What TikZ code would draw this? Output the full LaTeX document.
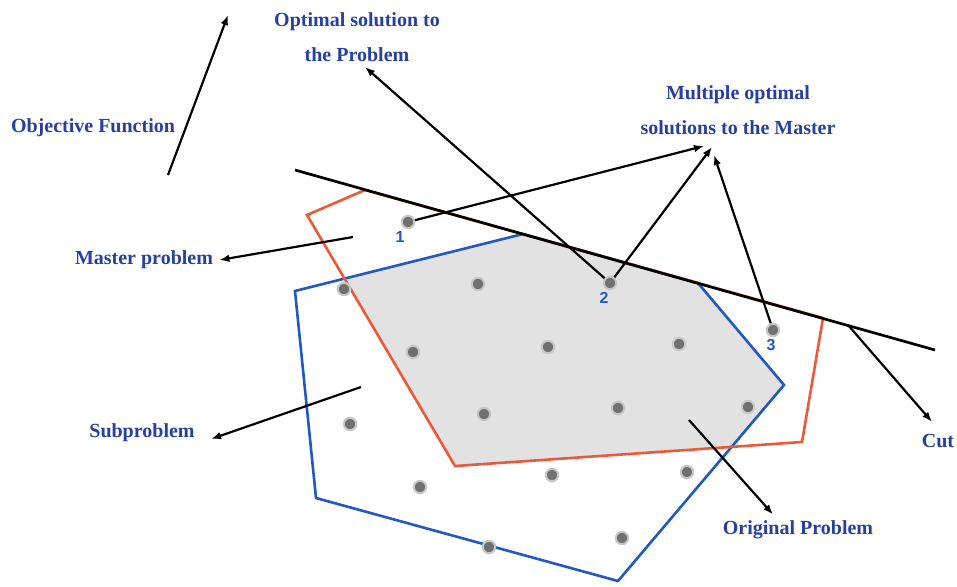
\documentclass[tikz,border=0pt]{standalone}
\usepackage{fontspec}
\setmainfont{Liberation Serif}
\newfontfamily\numfont{Liberation Sans}
\usetikzlibrary{calc,arrows.meta,positioning}

\definecolor{txtblue}{RGB}{38,64,160}
\definecolor{polyblue}{RGB}{32,88,196}
\definecolor{polyred}{RGB}{238,88,58}
\definecolor{areagray}{RGB}{226,226,226}
\definecolor{dotgray}{RGB}{112,112,112}

\begin{document}
\begin{tikzpicture}[x=0.5pt,y=-0.5pt,
	lbl/.style={text=txtblue,font=\bfseries\fontsize{10}{17.5}\selectfont,align=center,inner sep=1pt},
	num/.style={text=polyblue,font=\numfont\bfseries\fontsize{8}{9}\selectfont,inner sep=0pt},
	pt/.style={circle,fill=dotgray,draw=dotgray!40,line width=1pt,minimum size=6.2pt,inner sep=0pt},
	arr/.style={-{Latex[length=5pt,width=3.8pt]},line width=1.1pt,black},
	rim/.style={line width=1.3pt,line join=miter}]
	\useasboundingbox (0,0) rectangle (957,586);

	% feasible region of the original problem
	\begin{scope}
		\clip (295,291) -- (523,234) -- (698,283) -- (784,385) -- (618,581) -- (316,498) -- cycle;
		\fill[areagray] (307,215) -- (365,190) -- (823,318) -- (802,442) -- (455,466) -- cycle;
	\end{scope}
	\draw[rim,polyblue] (295,291) -- (523,234) -- (698,283) -- (784,385) -- (618,581) -- (316,498) -- cycle;
	\draw[rim,polyred] (307,215) -- (365,190) -- (823,318) -- (802,442) -- (455,466) -- cycle;

	% integer points
	\node[pt] (p1) at (408,222) {};
	\node[pt] (p2) at (610,283) {};
	\node[pt] (p3) at (773,330) {};
	\node[pt] (q1) at (344,289) {};
	\node[pt] (q2) at (478,284) {};
	\node[pt] (q3) at (413,352) {};
	\node[pt] (q4) at (548,347) {};
	\node[pt] (q5) at (679,344) {};
	\node[pt] (q6) at (350,424) {};
	\node[pt] (q7) at (484,414) {};
	\node[pt] (q8) at (618,408) {};
	\node[pt] (q9) at (748,407) {};
	\node[pt] (q10) at (420,487) {};
	\node[pt] (q11) at (552,475) {};
	\node[pt] (q12) at (687,472) {};
	\node[pt] (q13) at (489,547) {};
	\node[pt] (q14) at (622,538) {};
	\node[num] (n1) at (400,237) {1};
	\node[num] (n2) at (604,298) {2};
	\node[num] (n3) at (771,345) {3};

	% the cut
	\coordinate (cutA) at (295,170);
	\coordinate (cutB) at (935,350);
	\draw[line width=1.35pt] (cutA) -- (cutB);

	% labels
	\node[lbl] (objfun) at (93,128) {Objective Function};
	\node[lbl] (optsol) at (357,37) {Optimal solution to\\the Problem};
	\node[lbl] (multi) at (738,110) {Multiple optimal\\solutions to the Master};
	\node[lbl] (master) at (144,260) {Master problem};
	\node[lbl] (subprob) at (142,433) {Subproblem};
	\node[lbl] (cut) at (938,441) {Cut};
	\node[lbl] (orig) at (798,530) {Original Problem};

	% arrows
	\coordinate (objA) at (168,175);
	\coordinate (objB) at (228,15);
	\draw[arr] (objA) -- (objB);
	\coordinate (optend) at (365,67);
	\draw[arr] (p2) -- (optend);
	\coordinate (m1) at (704,146);
	\coordinate (m2) at (712,147);
	\coordinate (m3) at (714,155);
	\draw[arr] (p1) -- (m1);
	\draw[arr] (p2) -- (m2);
	\draw[arr] (p3) -- (m3);
	\coordinate (mst) at (353,237);
	\draw[arr] (mst) -- ([xshift=2]master.east);
	\coordinate (sbp) at (361,387);
	\draw[arr] (sbp) -- ([shift={(14,6)}]subprob.east);
	\coordinate (cutfoot) at (848,325);
	\draw[arr] (cutfoot) -- ([shift={(-6,-10)}]cut.north);
	\coordinate (origfoot) at (689,420);
	\draw[arr] (origfoot) -- ([shift={(-25,-4)}]orig.north);
\end{tikzpicture}
\end{document}
